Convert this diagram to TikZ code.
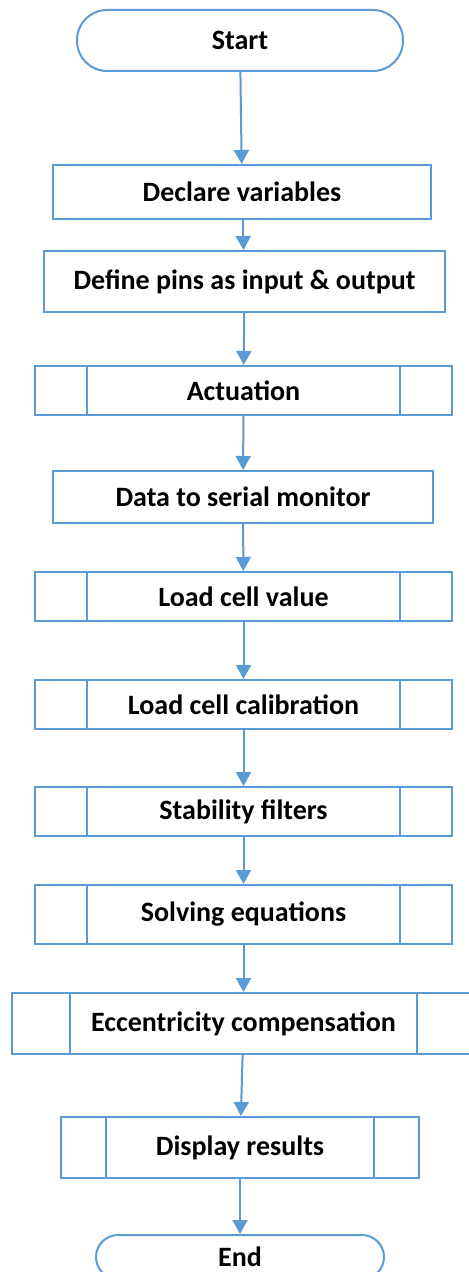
\documentclass[tikz,border=0pt]{standalone}
\usepackage{fontspec}
\setmainfont{Carlito}
\usetikzlibrary{arrows.meta}

\definecolor{flowblue}{HTML}{5B9BD5}

\tikzset{
    flowline/.style={draw=flowblue, line width=1pt},
    flowarrow/.style={flowline, -{Triangle[width=7.5pt,length=7pt]}},
    proc/.style={flowline, rectangle, align=center, inner sep=0pt,
        font=\bfseries\fontsize{14}{16}\selectfont},
    subproc/.style={proc, path picture={
        \draw[flowblue, line width=1pt]
            ([xshift=#1]path picture bounding box.north west) -- ([xshift=#1]path picture bounding box.south west)
            ([xshift=-#1]path picture bounding box.north east) -- ([xshift=-#1]path picture bounding box.south east);}},
    subproc/.default=26pt,
    terminal/.style={proc, rounded corners=#1},
}

\begin{document}
\begin{tikzpicture}[x=0.5pt, y=-0.5pt]

\useasboundingbox (0,0) rectangle (468,1272);

\node[terminal=15pt, minimum width=163pt, minimum height=30.5pt] (start) at (240,40.5) {Start};
\node[proc, minimum width=189pt, minimum height=27pt] (decl) at (242,192) {Declare variables};
\node[proc, minimum width=200.5pt, minimum height=30.5pt] (pins) at (244.5,281.5) {Define pins as input \& output};
\node[subproc, minimum width=208.5pt, minimum height=24.5pt] (act) at (243.5,390.5) {Actuation};
\node[proc, minimum width=190pt, minimum height=26pt] (serial) at (243,497) {Data to serial monitor};
\node[subproc, minimum width=208.5pt, minimum height=24.5pt] (cell) at (243.5,596.5) {Load cell value};
\node[subproc, minimum width=208.5pt, minimum height=24.5pt] (calib) at (243.5,704.5) {Load cell calibration};
\node[subproc, minimum width=208.5pt, minimum height=24.5pt] (stab) at (243.5,811.5) {Stability filters};
\node[subproc, minimum width=208.5pt, minimum height=29.5pt] (solve) at (243.5,914.5) {Solving equations};
\node[subproc=29pt, minimum width=231.5pt, minimum height=30.5pt] (ecc) at (243.5,1023.5) {Eccentricity compensation};
\node[subproc=22.5pt, minimum width=179pt, minimum height=30.5pt] (disp) at (240,1147.5) {Display results};
\node[terminal=11pt, minimum width=144pt, minimum height=22pt] (end) at (240,1257) {End};

\draw[flowarrow] (start) -- (decl);
\draw[flowarrow] (decl) -- (pins);
\draw[flowarrow] (pins) -- (act);
\draw[flowarrow] (act) -- (serial);
\draw[flowarrow] (serial) -- (cell);
\draw[flowarrow] (cell) -- (calib);
\draw[flowarrow] (calib) -- (stab);
\draw[flowarrow] (stab) -- (solve);
\draw[flowarrow] (solve) -- (ecc);
\draw[flowarrow] (ecc) -- (disp);
\draw[flowarrow] (disp) -- (end);

\end{tikzpicture}
\end{document}
